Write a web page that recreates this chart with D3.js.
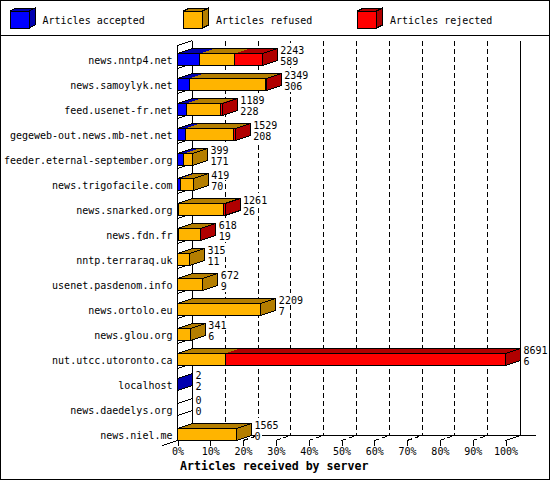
<!DOCTYPE html>
<html><head><meta charset="utf-8">
<script src="https://cdn.jsdelivr.net/npm/d3@7"></script>
<style>
body{margin:0;background:#fff;}
text{font-family:"DejaVu Sans Mono",monospace;font-size:10px;fill:#000;}
</style></head>
<body><div id="chart"></div>
<script>
const servers = ["news.nntp4.net","news.samoylyk.net","feed.usenet-fr.net","gegeweb-out.news.mb-net.net","feeder.eternal-september.org","news.trigofacile.com","news.snarked.org","news.fdn.fr","nntp.terraraq.uk","usenet.pasdenom.info","news.ortolo.eu","news.glou.org","nut.utcc.utoronto.ca","localhost","news.daedelys.org","news.niel.me"];
const totals   = [2243,2349,1189,1529,399,419,1261,618,315,672,2209,341,8691,2,0,1565];
const accepted = [589,306,228,208,171,70,26,19,11,9,7,6,6,2,0,0];
const refused  = [930,2013,911,1281,228,349,1205,579,304,663,2202,335,1253,0,0,1565];
const rejected = [724,30,50,40,0,0,30,20,0,0,0,0,7432,0,0,0];
const seriesNames = ["Articles accepted","Articles refused","Articles rejected"];
const frontColors = ["#0000ff","#ffb400","#ff0000"];
const darkColors  = ["#0000b0","#b47e00","#b00000"];
const tickValues = [0,10,20,30,40,50,60,70,80,90,100];
const xTitle = "Articles received by server";

const W=550,H=480, DX=15, DY=5;
const svg=d3.select("#chart").append("svg").attr("width",W).attr("height",H)
  .attr("shape-rendering","crispEdges");
svg.append("rect").attr("x",0.5).attr("y",0.5).attr("width",W-1).attr("height",H-1)
  .attr("fill","#fff").attr("stroke","#000");
svg.append("line").attr("x1",0).attr("x2",W).attr("y1",35.5).attr("y2",35.5).attr("stroke","#000");

// legend
const legX=[10,183.5,357.5];
seriesNames.forEach((n,i)=>{
  const g=svg.append("g");
  const x0=legX[i], y0=11, w=19, h=17, dx=6, dy=3;
  g.append("polygon").attr("points",[[x0,y0],[x0+dx,y0-dy],[x0+w+dx,y0-dy],[x0+w,y0]].join(" "))
    .attr("fill",darkColors[i]).attr("stroke","#000");
  g.append("polygon").attr("points",[[x0+w,y0],[x0+w+dx,y0-dy],[x0+w+dx,y0+h-dy],[x0+w,y0+h]].join(" "))
    .attr("fill",darkColors[i]).attr("stroke","#000");
  g.append("rect").attr("x",x0).attr("y",y0).attr("width",w).attr("height",h)
    .attr("fill",frontColors[i]).attr("stroke","#000");
  g.append("text").attr("x",x0+32.5).attr("y",24).text(n);
});

const maxTotal=d3.max(totals);
const x=d3.scaleLinear().domain([0,100]).range([177.5,505.5]);
const y=d3.scalePoint().domain(servers).range([59.5,434.5]);
const pct=v=>v/maxTotal*100;

const topY=40.5, floorY=435.5;
// back wall grid
tickValues.forEach(t=>{
  if(t===0) return;
  svg.append("line").attr("x1",x(t)+DX).attr("x2",x(t)+DX).attr("y1",topY).attr("y2",floorY)
    .attr("stroke","#000").attr("stroke-dasharray",t===100?null:"5,3");
  svg.append("line").attr("x1",x(t)).attr("y1",floorY+DY).attr("x2",x(t)+DX).attr("y2",floorY)
    .attr("stroke","#000").attr("stroke-dasharray",t===100?null:"5,3");
});
// walls
svg.append("line").attr("x1",x(0)+DX).attr("x2",x(0)+DX).attr("y1",topY).attr("y2",floorY).attr("stroke","#000");
svg.append("line").attr("x1",x(0)+DX).attr("x2",x(100)+2*DX).attr("y1",floorY).attr("y2",floorY).attr("stroke","#000");
svg.append("line").attr("x1",x(0)-DX).attr("y1",floorY+2*DY).attr("x2",x(0)+DX).attr("y2",floorY).attr("stroke","#000");
svg.append("line").attr("x1",x(0)).attr("y1",topY+DY).attr("x2",x(0)+DX).attr("y2",topY).attr("stroke","#000");

// category separators on left wall
servers.forEach((s,i)=>{
  if(x(pct(totals[i]))-x(0)<1) return;
  if(i===servers.length-1) return;
  const c=y(s)+9;
  svg.append("line").attr("x1",x(0)).attr("y1",c).attr("x2",x(0)+DX).attr("y2",c-DY).attr("stroke","#000");
});

// bars
servers.forEach((s,i)=>{
  const vals=[accepted[i],refused[i],rejected[i]];
  const c=y(s), top=c-6, bot=c+6;
  const g=svg.append("g");
  let acc=0, last=-1;
  const segs=vals.map((v,k)=>{const a=acc; acc+=v; if(v>0) last=k; return {k,x0:x(pct(a)),x1:x(pct(acc)),v};});
  const xe=x(pct(totals[i]));
  segs.filter(d=>d.v>0).forEach(d=>{
    g.append("polygon").attr("points",[[d.x0,top],[d.x0+DX,top-DY],[d.x1+DX,top-DY],[d.x1,top]].join(" "))
      .attr("fill",darkColors[d.k]).attr("stroke","none");
  });
  g.append("polygon").attr("points",[[x(0),top],[x(0)+DX,top-DY],[xe+DX,top-DY],[xe,top]].join(" "))
    .attr("fill","none").attr("stroke","#000");
  g.append("polygon").attr("points",[[xe,top],[xe+DX,top-DY],[xe+DX,bot-DY],[xe,bot]].join(" "))
    .attr("fill",last>=0?darkColors[last]:"#fff").attr("stroke","#000");
  segs.filter(d=>d.v>0).forEach(d=>{
    g.append("rect").attr("x",d.x0).attr("y",top).attr("width",Math.max(0,d.x1-d.x0)).attr("height",bot-top)
      .attr("fill",frontColors[d.k]).attr("stroke","none");
  });
  segs.filter(d=>d.v>0).forEach(d=>{
    g.append("rect").attr("x",d.x0).attr("y",top).attr("width",Math.max(0,d.x1-d.x0)).attr("height",bot-top)
      .attr("fill","none").attr("stroke","#000");
  });
  const tx=xe+DX+3;
  g.append("rect").attr("x",tx).attr("y",c-17).attr("width",String(totals[i]).length*6+1).attr("height",12)
    .attr("fill","#fff");
  g.append("rect").attr("x",tx).attr("y",c-5).attr("width",String(accepted[i]).length*6+1).attr("height",12)
    .attr("fill","#fff");
  g.append("text").attr("x",tx).attr("y",c-6).text(totals[i]);
  g.append("text").attr("x",tx).attr("y",c+5.5).text(accepted[i]);
});

// left axis line
svg.append("line").attr("x1",x(0)).attr("x2",x(0)).attr("y1",topY+DY).attr("y2",floorY+DY).attr("stroke","#000");

// axes
const ya=svg.append("g").attr("transform",`translate(${x(0)},0)`)
  .call(d3.axisLeft(y).tickSize(0).tickPadding(5));
ya.select(".domain").remove();
ya.selectAll("text").attr("font-family",null).attr("font-size",null).attr("dy","0.4em");

const xa=svg.append("g").attr("transform",`translate(0,${floorY+DY})`)
  .call(d3.axisBottom(x).tickValues(tickValues).tickFormat(d=>d+"%").tickSize(5).tickPadding(2));
xa.select(".domain").remove();
xa.selectAll("text").attr("font-family",null).attr("font-size",null);

svg.append("text").attr("x",180).attr("y",470).attr("font-weight","bold")
  .style("font-size","11.6px").text(xTitle);
</script></body></html>
